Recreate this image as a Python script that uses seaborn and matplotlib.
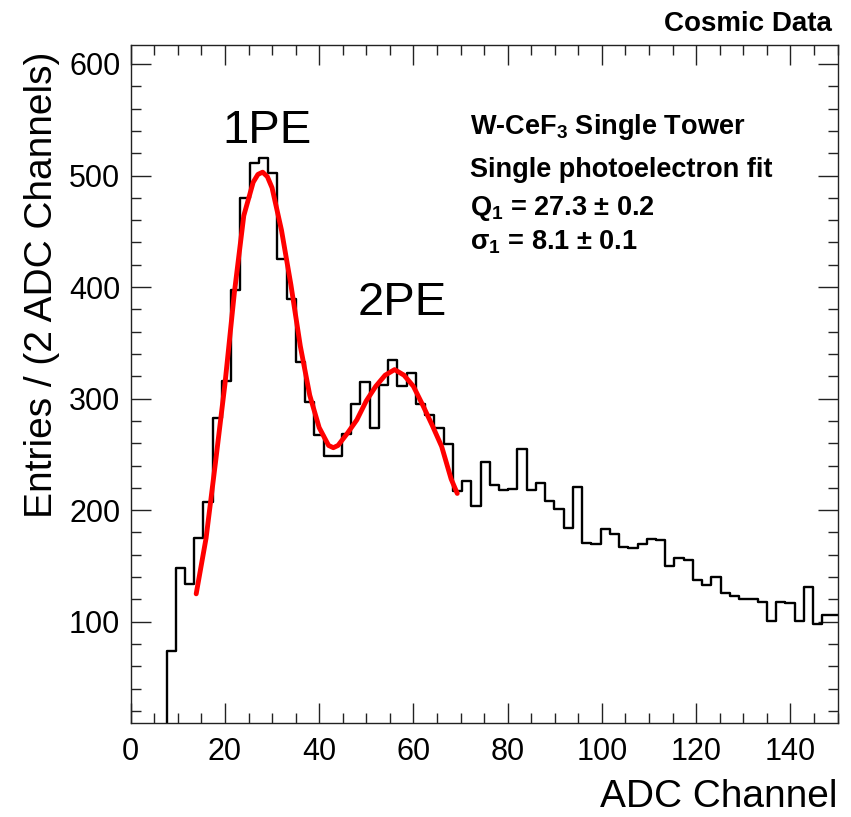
import numpy as np
import pandas as pd
import matplotlib
matplotlib.use("Agg")
import matplotlib.pyplot as plt
import seaborn as sns
from matplotlib.ticker import MultipleLocator

# ================================
# DATA
# ================================
# histogram binning as drawn on the ADC axis
bin_width = 1.96
first_edge = -0.24

# entries per bin, left to right
entries = [0, 0, 0, 0,
           74, 148, 134, 175, 207, 283, 316, 397, 480, 511,
           516, 502, 425, 389, 333, 297, 267, 249, 249, 268,
           295, 315, 274, 312, 335, 311, 323, 295, 285, 274,
           259, 217, 226, 204, 243, 223, 218, 219, 255, 218,
           224, 208, 201, 184, 221, 171, 170, 183, 179, 167,
           166, 170, 174, 173, 150, 157, 155, 137, 133, 140,
           126, 123, 120, 120, 118, 101, 118, 117, 101, 131,
           98, 106, 106]

# single photoelectron fit curve
fit_x = [13.9, 16, 18, 20, 22, 24, 26, 27, 28, 29, 30, 32, 34, 36, 38, 40,
         42, 43, 44, 46, 48, 50, 52, 54, 56, 58, 60, 62, 64, 66, 68, 69.3]
fit_y = [125, 175, 243, 313, 395, 464, 494, 501, 503, 499, 489, 451, 402,
         347, 303, 274, 258, 256, 258, 269, 281, 298, 311, 321, 326, 321,
         311, 294, 276, 257, 228, 215]

edges = [first_edge + bin_width * i for i in range(len(entries) + 1)]
df = pd.DataFrame({"adc": [e + bin_width / 2 for e in edges[:-1]], "entries": entries})

# ================================
# STYLE
# ================================
sns.set_style("ticks")
plt.rcParams["font.family"] = ["Liberation Sans", "DejaVu Sans"]
plt.rcParams["mathtext.fontset"] = "custom"
plt.rcParams["mathtext.rm"] = "Liberation Sans:bold"
plt.rcParams["mathtext.bf"] = "Liberation Sans:bold"
plt.rcParams["mathtext.default"] = "bf"
plt.rcParams["text.color"] = "black"
plt.rcParams["xtick.color"] = "black"
plt.rcParams["ytick.color"] = "black"
plt.rcParams["xtick.labelcolor"] = "black"
plt.rcParams["ytick.labelcolor"] = "black"

fig = plt.figure(figsize=(8.51, 8.17), dpi=100)
ax = fig.add_axes([130.7 / 851, 1 - 723 / 817, (837.5 - 130.7) / 851, (723 - 45) / 817])

# ================================
# HISTOGRAM + FIT
# ================================
sns.histplot(data=df, x="adc", weights="entries", bins=edges, element="step",
             fill=False, color="black", linewidth=1.7, ax=ax)
sns.lineplot(x=fit_x, y=fit_y, color="red", linewidth=3.5, sort=False, ax=ax)

ax.set_xlim(0, 150)
ax.set_ylim(9.2, 617)
ax.set_xlabel("")
ax.set_ylabel("")

ax.xaxis.set_major_locator(MultipleLocator(20))
ax.xaxis.set_minor_locator(MultipleLocator(5))
ax.yaxis.set_major_locator(MultipleLocator(100))
ax.yaxis.set_minor_locator(MultipleLocator(20))
ax.tick_params(which="both", direction="in", top=True, right=True, width=1.0,
               color="#222222", labelcolor="black")
ax.tick_params(which="major", length=14.5)
ax.tick_params(which="minor", length=7.2)
ax.tick_params(axis="y", labelsize=22, pad=7.5)
ax.tick_params(axis="x", labelsize=22, pad=10)
ax.set_yticks([100, 200, 300, 400, 500, 600])
for s in ax.spines.values():
    s.set_linewidth(1.0)
    s.set_color("#222222")

# ================================
# TEXT
# ================================
ax.text(28.9, 528.8, "1PE", fontsize=34, ha="center", va="baseline", color="black")
ax.text(57.6, 375.3, "2PE", fontsize=34, ha="center", va="baseline", color="black")

info = [(536.8, r"W-CeF$_{3}$ Single Tower"),
        (498.3, "Single photoelectron fit"),
        (465.0, r"Q$_{1}$ = 27.3 $\pm$ 0.2"),
        (433.6, r"σ$_{1}$ = 8.1 $\pm$ 0.1")]
for yy, txt in info:
    ax.text(72, yy, txt, fontsize=19.5, fontweight="bold", ha="left", va="baseline",
            color="black")

fig.text(832 / 851, 1 - 31 / 817, "Cosmic Data", fontsize=20, fontweight="bold",
         ha="right", va="baseline", color="black")
fig.text(42 / 851, 1 - 52 / 817, "Entries / (2 ADC Channels)", fontsize=28,
         rotation=90, ha="center", va="top", color="black")
fig.text(838 / 851, 2 / 817, "ADC Channel", fontsize=28, ha="right", va="bottom",
         color="black")

fig.savefig("out.png", dpi=100)
